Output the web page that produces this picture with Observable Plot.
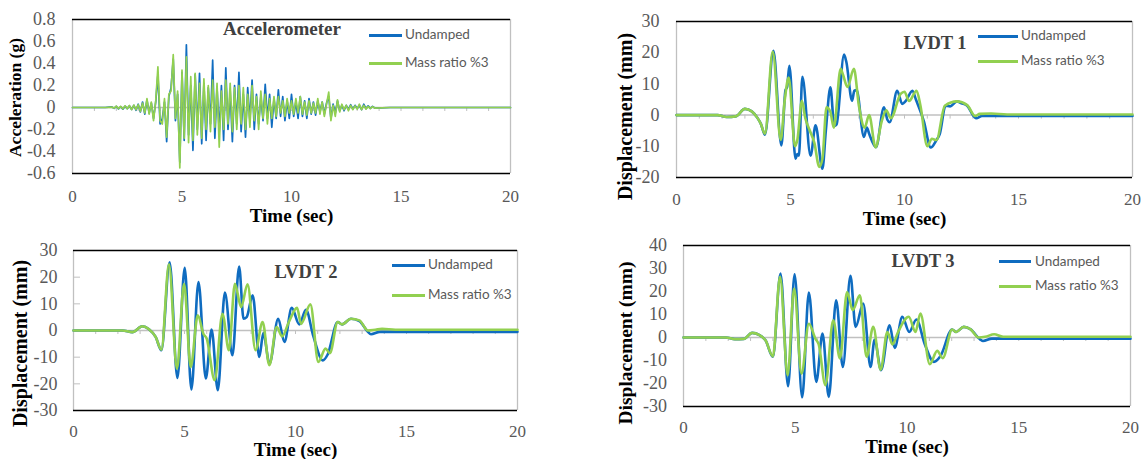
<!DOCTYPE html>
<html><head><meta charset="utf-8">
<script src="https://cdn.jsdelivr.net/npm/d3@7"></script>
<script src="https://cdn.jsdelivr.net/npm/@observablehq/plot@0.6"></script>
<style>
body{margin:0;background:#fff}
#wrap{position:relative;width:1145px;height:459px;background:#fff;overflow:hidden}
#wrap svg text{font-family:"Liberation Serif","Times New Roman",serif !important}
.panel{position:absolute}
.ttl{position:absolute;transform:translate(-50%,-50%);font-family:"Liberation Serif",serif;font-weight:bold;color:#404040;white-space:nowrap;line-height:1}
.lg{position:absolute;transform:translateY(-50%);font-family:Lato,sans-serif;font-size:13.5px;color:#595959;white-space:nowrap;line-height:1}
.ll{position:absolute;height:3px}
</style></head>
<body><div id="wrap"></div>
<script>
// ---------- data ----------
const seriesNames = ["Undamped", "Mass ratio %3"];
const xTicks = [0, 5, 10, 15, 20];
const minorTicks = [1,2,3,4,5,6,7,8,9,10,11,12,13,14,15,16,17,18,19];

// Accelerometer (g)
const accT = [
  0,1.5,1.8,1.9,2.0,2.1,2.2,2.3,2.4,2.5,
  2.6,2.7,2.8,2.9,3.0,3.1,3.2,3.3,3.4,3.5,
  3.6,3.7,3.8,3.9,4.0,4.1,4.2,4.3,4.4,4.5,
  4.6,4.7,4.8,4.9,5.0,5.1,5.2,5.3,5.4,5.5,
  5.6,5.7,5.8,5.9,6.0,6.1,6.2,6.3,6.4,6.5,
  6.6,6.7,6.8,6.9,7.0,7.1,7.2,7.3,7.4,7.5,
  7.6,7.7,7.8,7.9,8.0,8.1,8.2,8.3,8.4,8.5,
  8.6,8.7,8.8,8.9,9.0,9.1,9.2,9.3,9.4,9.5,
  9.6,9.7,9.8,9.9,10.0,10.1,10.2,10.3,10.4,10.5,
  10.6,10.7,10.8,10.9,11.0,11.1,11.2,11.3,11.4,11.5,
  11.6,11.7,11.8,11.9,12.0,12.1,12.2,12.3,12.4,12.5,
  12.6,12.7,12.8,12.9,13.0,13.1,13.2,13.3,13.4,13.5,
  13.6,13.7,13.8,14.5,15,20];
const accUndamped = [
  0,0,0.005,-0.008,0.01,-0.012,0.008,-0.015,0.012,-0.01,
  0.015,-0.018,0.02,-0.025,0.03,-0.04,0.05,-0.06,0.07,-0.05,
  0.04,-0.1,0.05,0.3,-0.15,-0.1,0.05,-0.31,0.1,0.18,
  0.44,-0.12,0.12,-0.5,0.32,-0.3,0.57,-0.25,0.2,-0.39,
  0.3,-0.2,0.31,-0.33,0.22,-0.3,0.18,-0.15,0.43,-0.28,
  0.18,-0.22,0.2,-0.3,0.36,-0.2,0.15,-0.31,0.2,-0.15,
  0.32,-0.22,0.12,-0.27,0.18,-0.12,0.25,-0.2,0.12,-0.15,
  0.1,-0.12,0.21,-0.1,0.12,-0.18,0.08,-0.1,0.16,-0.08,
  0.1,-0.12,0.06,-0.1,0.12,-0.08,0.05,-0.1,0.1,-0.08,
  0.06,-0.1,0.08,-0.06,0.05,-0.07,0.06,-0.04,0.05,-0.06,
  0.04,0.1,-0.1,0.03,-0.05,0.06,-0.03,0.02,-0.03,0.02,
  -0.02,0.025,-0.015,0.02,-0.01,0.02,-0.02,0.03,-0.01,0.015,
  -0.008,0.01,-0.005,0,0,0];
const accMass = [
  0,0,0.004,-0.006,0.012,-0.01,0.01,-0.012,0.015,-0.012,
  0.018,-0.02,0.022,-0.02,0.025,-0.035,0.04,-0.05,0.08,-0.06,
  0.05,-0.12,0.06,0.37,-0.12,-0.15,0.08,-0.27,0.12,0.15,
  0.48,-0.1,0.15,-0.55,0.34,-0.28,0.46,-0.32,0.28,-0.3,
  0.31,-0.25,0.22,-0.28,0.26,-0.2,0.2,-0.22,0.25,-0.18,
  0.22,-0.36,0.15,-0.2,0.25,-0.15,0.22,-0.22,0.18,-0.2,
  0.2,-0.15,0.18,-0.2,0.12,-0.18,0.2,-0.12,0.1,-0.2,
  0.15,-0.1,0.12,-0.15,0.08,-0.1,0.1,-0.08,0.1,-0.05,
  0.06,-0.08,0.08,-0.05,0.06,-0.06,0.08,-0.05,0.1,-0.06,
  0.05,-0.07,0.06,-0.05,0.04,-0.05,0.08,-0.06,0.05,-0.08,
  0.03,0.14,-0.12,0.02,-0.08,0.07,-0.04,0.03,-0.02,0.02,
  -0.03,0.02,-0.02,0.015,-0.015,0.03,-0.02,0.02,-0.015,0.01,
  -0.01,0.008,-0.005,0,0,0];
const accTicks = [0.8,0.6,0.4,0.2,0,-0.2,-0.4,-0.6];

// LVDT 1 (mm)
const l1tU = [0,1.8,2.2,2.6,3.0,3.3,3.55,3.7,3.88,4.25,4.6,4.78,4.85,4.95,5.22,5.3,5.37,5.52,5.88,6.1,6.4,6.55,6.75,6.92,7.02,7.35,7.45,7.7,7.8,7.9,8.22,8.35,8.45,8.75,9.1,9.25,9.35,9.68,9.9,10.05,10.35,10.5,10.85,11.15,11.4,11.55,11.8,12.0,12.3,12.5,12.75,13.05,13.15,13.4,14,20];
const l1vU = [0,0,-0.6,-0.4,2.0,1.2,-0.9,-2.8,-6.3,20.6,-9.7,8,9,15.8,-14,-12.5,-13,12.3,-13,-3.3,-17.2,-5,8.9,-3.5,-3,19.4,17,4.6,7.8,8,-7,-4,-6,-10.3,2.5,-1.5,-2.3,7.8,3.6,4.5,7.8,5,-2,-10.4,-8,-6,3,2.8,4.4,3.8,3,-0.5,-1,-0.3,-0.3,-0.3];
const l1tM = [0,1.8,2.2,2.6,3.0,3.3,3.55,3.7,3.88,4.22,4.57,4.75,4.92,5.2,5.3,5.5,5.65,5.85,6.05,6.26,6.4,6.58,6.75,6.9,7.2,7.3,7.5,7.78,8.0,8.25,8.45,8.73,9.0,9.2,9.4,9.83,10.0,10.2,10.53,10.7,11.0,11.2,11.4,11.77,12.3,12.75,13.1,13.3,13.8,14.5,20];
const l1vM = [0,0,-0.6,-0.4,2.0,1.2,-0.9,-2.8,-6,20.4,-8,5,12,-10,-8,4.6,-1,-5,-9,-16.6,-14,2.5,1,-4,14.8,13,9,14.8,3,-4,0,-10.3,-2,1.5,-1,6.8,7.5,4.5,7.8,3,-10,-7.6,-8,3,4.4,3.2,-0.3,0.4,0.5,0.2,0.2];
const l1Ticks = [30,20,10,0,-10,-20];

// LVDT 2 (mm)
const l2tU = [0,2.2,2.65,3.1,3.4,3.7,3.96,4.33,4.68,5.01,5.31,5.63,5.96,6.22,6.5,6.82,7.16,7.46,7.66,7.8,8.07,8.37,8.55,8.83,9.22,9.5,9.83,10.17,10.47,10.8,11.23,11.45,11.9,12.1,12.5,12.88,13.26,13.4,13.8,20];
const l2vU = [0,0,-0.6,1.6,0.5,-2.4,-7.4,25.6,-17.8,23.5,-22.1,18.2,-18,0.4,-22.4,14.2,-9.3,24,4.4,5,13.2,-9.9,-1,-12.4,4.4,-4.3,8.5,2.3,7.8,-2,-11.2,-9,3.2,2.3,4.4,3.5,-0.5,-1.4,-0.5,-0.5];
const l2tM = [0,2.2,2.65,3.1,3.4,3.7,3.96,4.3,4.66,4.98,5.28,5.6,5.85,6.0,6.36,6.71,7.0,7.27,7.55,7.84,8.2,8.52,8.82,9.15,9.4,9.7,10.07,10.25,10.67,11.03,11.35,11.55,11.9,12.1,12.5,12.88,13.26,13.6,13.9,14.5,20];
const l2vM = [0,0,-0.6,1.6,0.5,-2.4,-7.2,24.8,-14.3,17.5,-13.7,5.7,-1.2,-3,-18.6,6.3,-7.4,17.5,8.8,17.3,-7.4,3.2,-13,1.3,-2.2,3.2,8.5,2.5,9.8,-11.8,-6.8,-8.5,3.2,2.3,4.4,3.8,0,0.3,0.6,0.3,0.3];
const l2Ticks = [30,20,10,0,-10,-20,-30];
const l2LeftTicks = [20,10,-10,-20];

// LVDT 3 (mm)
const l3tU = [0,1.9,2.3,2.7,3.07,3.4,3.67,4.0,4.34,4.68,4.97,5.31,5.61,5.94,6.22,6.5,6.83,7.13,7.47,7.7,8.04,8.37,8.55,8.84,9.22,9.45,9.79,10.1,10.42,10.8,11.2,11.5,12.02,12.2,12.54,12.85,13.28,13.4,13.8,20];
const l3vU = [0,0,-0.7,-0.6,2.0,1,-1.2,-8.4,27.8,-21.2,27.5,-26,19.5,-19.3,1.7,-25.8,16.2,-12.8,26.8,4.6,14.8,-12.8,-1,-14.2,5.3,-4.5,9,2.4,7.8,-3,-10.6,-8,3.5,2.4,4.6,3.5,-0.9,-1.5,-0.5,-0.5];
const l3tM = [0,1.9,2.3,2.7,3.07,3.4,3.67,4.0,4.32,4.66,4.95,5.28,5.61,5.9,6.05,6.35,6.7,7.0,7.32,7.57,7.89,8.19,8.49,8.82,9.12,9.35,9.6,10.08,10.38,10.6,11.02,11.35,11.6,12.02,12.2,12.54,12.85,13.2,13.5,13.9,14.3,20];
const l3vM = [0,0,-0.7,-0.6,2.0,1,-1.2,-8.2,26.4,-16.4,21.3,-15.7,6,-0.5,-3,-20.7,7.5,-9.1,19.8,11.9,18.4,-8.4,4.6,-14,2.4,-3,2.4,9,2.4,10.4,-11.6,-5.8,-9,3.5,2.4,4.6,3.5,0,0.3,1.4,0.3,0.3];
const l3Ticks = [40,30,20,10,0,-10,-20,-30];

// ---------- drawing ----------
const BLUE = "#0f6cc0", GREEN = "#92d050";
const SERIF = "Liberation Serif";
const wrap = document.getElementById("wrap");

function rows(ts, vs) { return ts.map((t, i) => ({t, v: vs[i]})); }

function panel(c) {
  const marks = [
    Plot.ruleY([0], {stroke: "#c0c0c0", strokeWidth: 1.5}),
    Plot.ruleX(minorTicks, {x: d => d, y1: 0, y2: 0, insetBottom: -4, stroke: "#c0c0c0", strokeWidth: 1}),
    Plot.ruleX([0, 20], {x: d => d, stroke: "#c0c0c0", strokeWidth: 1.3}),
    Plot.ruleY([c.yDomain[0], c.yDomain[1]], {y: d => d, stroke: "#000", strokeWidth: 1.4}),
  ];
  if (c.leftTicks) marks.push(Plot.ruleY(c.leftTicks, {y: d => d, x1: 0, x2: 0, insetRight: -7, stroke: "#c0c0c0", strokeWidth: 1}));
  marks.push(
    Plot.lineY(rows(c.tU, c.vU), {x: "t", y: "v", stroke: BLUE, strokeWidth: c.sw, curve: c.curve, strokeLinejoin: "round"}),
    Plot.lineY(rows(c.tM, c.vM), {x: "t", y: "v", stroke: GREEN, strokeWidth: c.sw, curve: c.curve, strokeLinejoin: "round"}),
    Plot.axisX({ticks: xTicks, tickSize: 0, tickPadding: c.xPad, tickFormat: d => String(d), fontSize: 17, fontFamily: SERIF, fill: "#595959", label: null}),
    Plot.axisY({ticks: c.yTicks, tickSize: 0, tickPadding: c.yPad, tickFormat: d => String(d), fontSize: 18, fontFamily: SERIF, fill: "#595959", label: null}),
    Plot.text(["Time (sec)"], {text: d => d, frameAnchor: "bottom", textAnchor: "middle", lineAnchor: "middle", dy: c.xLabelDy, fontSize: 19, fontWeight: "bold", fontFamily: SERIF, fill: "#000"}),
    Plot.text([c.yLabel], {text: d => d, frameAnchor: "left", textAnchor: "middle", rotate: -90, lineAnchor: "middle", dx: c.yLabelDx, dy: c.yLabelDy, fontSize: c.yLabelSize, fontWeight: "bold", fontFamily: SERIF, fill: "#000"})
  );
  const svg = Plot.plot({
    width: c.w, height: c.h,
    marginLeft: c.ml, marginRight: c.mr, marginTop: c.mt, marginBottom: c.mb,
    x: {domain: [0, 20]},
    y: {domain: c.yDomain},
    style: {fontFamily: SERIF, fontSize: "18px", color: "#595959", background: "transparent", overflow: "visible"},
    marks
  });
  const div = document.createElement("div");
  div.className = "panel";
  div.style.left = c.left + "px"; div.style.top = c.top + "px";
  div.appendChild(svg);
  wrap.appendChild(div);

  const t = document.createElement("div");
  t.className = "ttl"; t.textContent = c.title;
  t.style.left = c.titleX + "px"; t.style.top = c.titleY + "px"; t.style.fontSize = c.titleSize + "px";
  wrap.appendChild(t);
  [BLUE, GREEN].forEach((col, i) => {
    const y = c.legY[i];
    const ln = document.createElement("div");
    ln.className = "ll"; ln.style.background = col;
    ln.style.left = c.legX1 + "px"; ln.style.width = (c.legX2 - c.legX1) + "px"; ln.style.top = (y - 1.5) + "px";
    wrap.appendChild(ln);
    const tx = document.createElement("div");
    tx.className = "lg"; tx.textContent = seriesNames[i];
    tx.style.left = c.legText + "px"; tx.style.top = y + "px";
    wrap.appendChild(tx);
  });
}

panel({left: 0, top: 0, w: 540, h: 225, ml: 72, mr: 30, mt: 19, mb: 52,
  yDomain: [-0.6, 0.8], yTicks: accTicks, tU: accT, vU: accUndamped, tM: accT, vM: accMass,
  sw: 1.7, curve: "linear", xPad: 16.5, yPad: 17, xLabelDy: 42,
  yLabel: "Acceleration (g)", yLabelDx: -57, yLabelDy: 1, yLabelSize: 17.5,
  title: "Accelerometer", titleX: 282, titleY: 28, titleSize: 19,
  legX1: 369, legX2: 402, legText: 405, legY: [35, 63]});

panel({left: 600, top: 0, w: 545, h: 225, ml: 76, mr: 13, mt: 21, mb: 48,
  yDomain: [-20, 30], yTicks: l1Ticks, tU: l1tU, vU: l1vU, tM: l1tM, vM: l1vM,
  sw: 2.6, curve: "monotone-x", xPad: 15, yPad: 17, xLabelDy: 41,
  yLabel: "Displacement (mm)", yLabelDx: -51, yLabelDy: 17, yLabelSize: 20,
  title: "LVDT 1", titleX: 935, titleY: 43, titleSize: 18.5,
  legX1: 978, legX2: 1018, legText: 1021, legY: [36, 61]});

panel({left: 0, top: 225, w: 540, h: 234, ml: 73, mr: 23, mt: 25, mb: 49,
  yDomain: [-30, 30], yTicks: l2Ticks, tU: l2tU, vU: l2vU, tM: l2tM, vM: l2vM, leftTicks: l2LeftTicks,
  sw: 2.6, curve: "monotone-x", xPad: 14, yPad: 16, xLabelDy: 39.5,
  yLabel: "Displacement (mm)", yLabelDx: -53, yLabelDy: 13, yLabelSize: 20,
  title: "LVDT 2", titleX: 306, titleY: 272, titleSize: 18.5,
  legX1: 392, legX2: 425, legText: 428, legY: [265, 295]});

panel({left: 600, top: 225, w: 545, h: 234, ml: 83, mr: 15, mt: 20, mb: 53,
  yDomain: [-30, 40], yTicks: l3Ticks, tU: l3tU, vU: l3vU, tM: l3tM, vM: l3vM,
  sw: 2.6, curve: "monotone-x", xPad: 14.5, yPad: 16.6, xLabelDy: 40.5,
  yLabel: "Displacement (mm)", yLabelDx: -58, yLabelDy: 17, yLabelSize: 19.5,
  title: "LVDT 3", titleX: 923, titleY: 261, titleSize: 18.5,
  legX1: 999, legX2: 1031, legText: 1035, legY: [261.5, 286]});
</script></body></html>
